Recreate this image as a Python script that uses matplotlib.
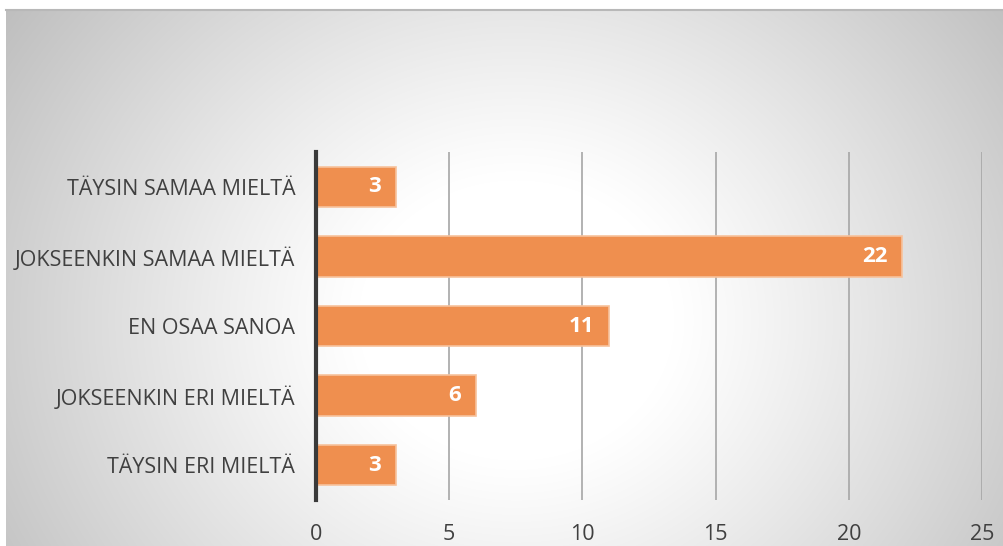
import numpy as np
import matplotlib
matplotlib.use("Agg")
import matplotlib.pyplot as plt

categories = ["TÄYSIN SAMAA MIELTÄ", "JOKSEENKIN SAMAA MIELTÄ", "EN OSAA SANOA",
              "JOKSEENKIN ERI MIELTÄ", "TÄYSIN ERI MIELTÄ"]
values = [3, 22, 11, 6, 3]
x_ticks = [0, 5, 10, 15, 20, 25]

plt.rcParams["font.family"] = ["Open Sans", "DejaVu Sans"]

W, H = 1004, 546
fig = plt.figure(figsize=(W / 100, H / 100), dpi=100)
fig.patch.set_facecolor("white")

# radial grey-to-white backdrop of the chart area
bg = fig.add_axes([6 / W, 0, 1 - 6 / W, 1 - 10 / H], zorder=0)
yy, xx = np.mgrid[0:536, 0:998]
cx, cy = 510, 310
r = np.sqrt(((xx - cx) / 630) ** 2 + ((yy - cy) / 560) ** 2)
t = np.clip((r - 0.25) / 0.75, 0, 1) ** 1.1
shade = 1.0 - 0.26 * t
img = np.dstack([shade, shade, shade])
bg.imshow(img, aspect="auto", extent=[0, 1, 0, 1], origin="upper")
bg.set_axis_off()
fig.add_artist(plt.Line2D([6 / W, 1], [1 - 10 / H, 1 - 10 / H],
                          transform=fig.transFigure, color="#b8b8b8", lw=1.5))

ax = fig.add_axes([316 / W, 1 - 500 / H, (982 - 316) / W, (500 - 152) / H], zorder=1)
ax.patch.set_alpha(0)
ypos = np.arange(len(categories))
bars = ax.barh(ypos, values, height=0.58, color="#EF8F4F", edgecolor="#F7C29C",
               linewidth=1.2, zorder=3)
ax.set_ylim(len(categories) - 0.5, -0.5)
ax.set_xlim(0, 25)
ax.set_xticks(x_ticks)
ax.set_yticks(ypos)
ax.set_yticklabels(categories)
ax.tick_params(axis="both", length=0, colors="#404040", labelsize=15.5)
ax.tick_params(axis="x", pad=17)
ax.tick_params(axis="y", pad=15)
ax.xaxis.grid(True, color="#a6a6a6", lw=1.2, zorder=1)
for s in ["top", "right", "bottom"]:
    ax.spines[s].set_visible(False)
ax.spines["left"].set_color("#3a3a3a")
ax.spines["left"].set_linewidth(3)
ax.spines["left"].set_zorder(4)

for b, v in zip(bars, values):
    ax.text(v - 0.55, b.get_y() + b.get_height() / 2, str(v), ha="right", va="center",
            color="white", fontsize=16, fontweight="bold", zorder=5)

fig.savefig("out.png", dpi=100)
